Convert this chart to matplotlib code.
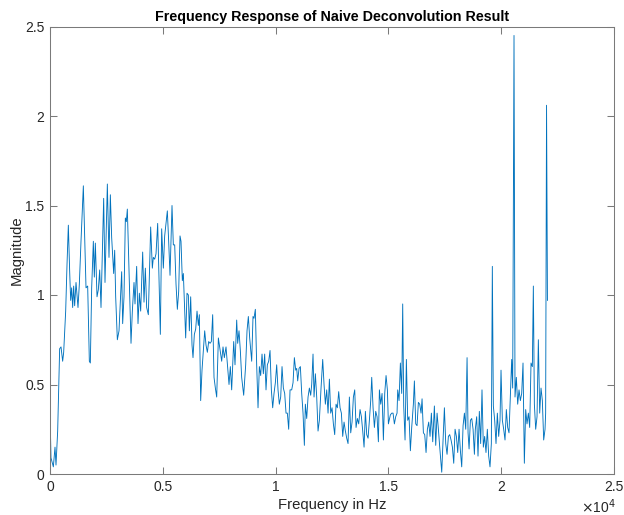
import matplotlib
matplotlib.use('Agg')
import matplotlib.pyplot as plt

# ---- data ----
freq_band1 = [0, 44, 148, 222, 266, 340, 428, 488, 561, 606, 695, 754, 813, 872, 916, 960, 1005, 1049, 1093, 1153,
              1241, 1300, 1374, 1478, 1537, 1596, 1670, 1744, 1788, 1847, 1921, 1965, 2010, 2084, 2143, 2202, 2261,
              2320, 2379, 2438, 2542, 2615, 2675, 2734, 2822, 2867, 2911, 2985, 3059, 3177, 3221, 3280, 3340, 3384,
              3428, 3502, 3591, 3650, 3724]
mag_band1 = [0.35, 0.09, 0.04, 0.15, 0.05, 0.24, 0.70, 0.71, 0.63, 0.68, 0.91, 1.17, 1.39, 1.13, 0.97, 1.04, 0.93,
             1.05, 0.94, 1.07, 0.93, 1.06, 1.30, 1.61, 1.32, 1.04, 1.05, 0.63, 0.62, 1.04, 1.30, 1.10, 1.29, 0.99,
             1.03, 1.14, 0.93, 1.23, 1.54, 1.07, 1.62, 1.21, 1.56, 1.32, 1.12, 1.25, 0.99, 0.75, 0.80, 1.13, 0.84,
             0.99, 1.43, 1.41, 1.48, 1.13, 0.73, 0.91, 1.07]

freq_band2 = [3768, 3842, 3901, 3960, 4019, 4108, 4167, 4226, 4285, 4359, 4462, 4536, 4581, 4640, 4699, 4773, 4832,
              4891, 4950, 5024, 5083, 5201, 5260, 5320, 5408, 5467, 5527, 5586, 5645, 5704, 5763, 5807, 5866, 5911,
              5970, 6014, 6073, 6133, 6177, 6236, 6295, 6339, 6398, 6458, 6517, 6576, 6620, 6679, 6738, 6798, 6857,
              6916, 6975, 7034, 7093, 7152, 7211, 7270, 7330, 7389, 7463, 7507]
mag_band2 = [0.95, 1.16, 0.84, 1.01, 0.91, 1.24, 0.96, 1.15, 0.93, 0.89, 1.38, 1.15, 1.21, 1.20, 1.23, 1.40, 1.08,
             0.78, 1.37, 1.15, 1.33, 1.47, 1.30, 1.11, 1.50, 1.28, 1.28, 1.06, 0.92, 1.02, 1.33, 1.30, 1.08, 1.12,
             0.91, 0.76, 1.01, 1.00, 0.80, 0.99, 0.72, 0.65, 0.78, 0.81, 0.91, 0.83, 0.89, 0.41, 0.58, 0.69, 0.80,
             0.72, 0.68, 0.74, 0.73, 0.74, 0.89, 0.54, 0.48, 0.43, 0.76, 0.72]

freq_band3 = [7610, 7669, 7728, 7802, 7876, 7935, 7994, 8053, 8142, 8201, 8275, 8319, 8378, 8437, 8496, 8585, 8674,
              8733, 8792, 8851, 8940, 8999, 9043, 9102, 9161, 9221, 9280, 9339, 9398, 9457, 9516, 9575, 9634, 9694,
              9753, 9812, 9871, 9930, 9989, 10048, 10107, 10166, 10226, 10285, 10344, 10403, 10462, 10521, 10580,
              10640, 10713, 10773, 10832, 10891, 10935, 10979, 11039, 11098, 11157, 11216, 11275]
mag_band3 = [0.63, 0.71, 0.65, 0.71, 0.59, 0.50, 0.60, 0.47, 0.74, 0.61, 0.86, 0.73, 0.80, 0.69, 0.54, 0.44, 0.61,
             0.80, 0.88, 0.76, 0.63, 0.88, 0.87, 0.92, 0.61, 0.37, 0.60, 0.55, 0.67, 0.56, 0.67, 0.47, 0.61, 0.63,
             0.69, 0.47, 0.37, 0.45, 0.51, 0.61, 0.47, 0.39, 0.43, 0.60, 0.48, 0.45, 0.34, 0.34, 0.25, 0.47, 0.47,
             0.51, 0.65, 0.58, 0.59, 0.52, 0.59, 0.60, 0.45, 0.34, 0.16]

freq_band4 = [11319, 11379, 11438, 11497, 11556, 11600, 11659, 11704, 11763, 11822, 11881, 11940, 12014, 12088,
              12147, 12206, 12265, 12325, 12384, 12443, 12502, 12561, 12620, 12679, 12738, 12797, 12857, 12916,
              12975, 13034, 13093, 13152, 13211, 13270, 13330, 13389, 13448, 13507, 13566, 13625, 13684, 13743,
              13803, 13862, 13921, 13980, 14039, 14098, 14157, 14216, 14261, 14320, 14379, 14438, 14497, 14556,
              14601, 14660, 14719, 14778, 14837, 14896, 14955, 15000]
mag_band4 = [0.39, 0.31, 0.43, 0.48, 0.44, 0.50, 0.67, 0.43, 0.56, 0.43, 0.24, 0.30, 0.48, 0.64, 0.50, 0.39, 0.47,
             0.34, 0.53, 0.34, 0.37, 0.28, 0.22, 0.39, 0.37, 0.46, 0.37, 0.34, 0.21, 0.29, 0.24, 0.20, 0.17, 0.43,
             0.23, 0.29, 0.43, 0.47, 0.26, 0.31, 0.28, 0.36, 0.32, 0.24, 0.15, 0.35, 0.22, 0.20, 0.30, 0.41, 0.54,
             0.37, 0.26, 0.35, 0.32, 0.18, 0.47, 0.39, 0.45, 0.19, 0.45, 0.55, 0.47, 0.28]

freq_band5 = [15087, 15147, 15206, 15265, 15324, 15383, 15413, 15472, 15531, 15590, 15634, 15679, 15738, 15797,
              15856, 15915, 15974, 16033, 16107, 16152, 16211, 16270, 16329, 16388, 16447, 16492, 16551, 16610,
              16669, 16728, 16787, 16846, 16905, 16965, 17038, 17098, 17157, 17216, 17275, 17364, 17423, 17482,
              17541, 17600, 17659, 17718, 17777, 17837, 17896, 17955, 18014, 18073, 18132, 18191, 18250, 18310,
              18369, 18428, 18487, 18531, 18576, 18635, 18694, 18753, 18812]
mag_band5 = [0.33, 0.34, 0.34, 0.28, 0.32, 0.34, 0.47, 0.41, 0.62, 0.45, 0.95, 0.38, 0.19, 0.64, 0.30, 0.32, 0.13,
             0.26, 0.39, 0.52, 0.28, 0.27, 0.40, 0.39, 0.34, 0.42, 0.23, 0.22, 0.12, 0.25, 0.29, 0.21, 0.34, 0.18,
             0.38, 0.16, 0.34, 0.25, 0.15, 0.01, 0.19, 0.37, 0.17, 0.11, 0.21, 0.22, 0.19, 0.15, 0.06, 0.25, 0.21,
             0.12, 0.25, 0.13, 0.04, 0.27, 0.34, 0.25, 0.65, 0.23, 0.14, 0.30, 0.31, 0.25, 0.11]

freq_band6 = [18853, 18913, 18972, 19031, 19090, 19149, 19208, 19267, 19326, 19386, 19445, 19504, 19563, 19607,
              19652, 19711, 19770, 19829, 19888, 19947, 19992, 20051, 20110, 20169, 20228, 20287, 20346, 20405,
              20465, 20509, 20568, 20612, 20671, 20731, 20790, 20849, 20908, 20967, 21026, 21085, 21144, 21204,
              21263, 21322, 21381, 21425, 21470, 21529, 21588, 21647, 21706, 21765, 21824, 21883, 21943, 21970,
              22010, 22050]
mag_band6 = [0.25, 0.32, 0.10, 0.35, 0.17, 0.47, 0.15, 0.21, 0.12, 0.25, 0.10, 0.04, 0.17, 1.16, 0.38, 0.30, 0.17,
             0.34, 0.21, 0.30, 0.58, 0.30, 0.25, 0.19, 0.36, 0.26, 0.23, 0.43, 0.64, 0.48, 2.45, 0.43, 0.54, 0.39,
             0.47, 0.41, 0.45, 0.62, 0.06, 0.36, 0.28, 0.34, 0.26, 0.62, 0.60, 1.05, 0.39, 0.25, 0.32, 0.75, 0.34,
             0.48, 0.41, 0.19, 0.25, 0.34, 2.06, 0.97]

x_ticks = [0, 5000, 10000, 15000, 20000, 25000]
x_tick_labels = ['0', '0.5', '1', '1.5', '2', '2.5']
y_ticks = [0, 0.5, 1, 1.5, 2, 2.5]
y_tick_labels = ['0', '0.5', '1', '1.5', '2', '2.5']

freq = freq_band1 + freq_band2 + freq_band3 + freq_band4 + freq_band5 + freq_band6
mag = mag_band1 + mag_band2 + mag_band3 + mag_band4 + mag_band5 + mag_band6

# ---- figure ----
plt.rcParams['font.family'] = ['Liberation Sans', 'DejaVu Sans']
txtcol = '#262626'
axcol = '#7a7a7a'

fig = plt.figure(figsize=(6.24, 5.15), dpi=100)
ax = fig.add_axes([50 / 624, 41 / 515, 564 / 624, 447.5 / 515])
ax.plot(freq, mag, color='#0072BD', lw=0.65)

ax.set_xlim(0, 25000)
ax.set_ylim(0, 2.5)
ax.set_xticks(x_ticks)
ax.set_xticklabels(x_tick_labels)
ax.set_yticks(y_ticks)
ax.set_yticklabels(y_tick_labels)
ax.tick_params(direction='in', top=True, right=True, length=5, width=0.75,
               color=axcol, labelcolor=txtcol, labelsize=10, pad=4)
for s in ax.spines.values():
    s.set_color(axcol)
    s.set_linewidth(0.75)

ax.set_title('Frequency Response of Naive Deconvolution Result', fontsize=10.3,
             fontweight='bold', color='black', pad=4)
ax.set_xlabel('Frequency in Hz', fontsize=10.7, color=txtcol, labelpad=3)
ax.set_ylabel('Magnitude', fontsize=10.7, color=txtcol, labelpad=1)
ax.text(1.004, -0.0737, r'$\times$10$^{4}$', transform=ax.transAxes, ha='right',
        va='center', fontsize=10, color=txtcol)

fig.savefig('out.png', dpi=100)
